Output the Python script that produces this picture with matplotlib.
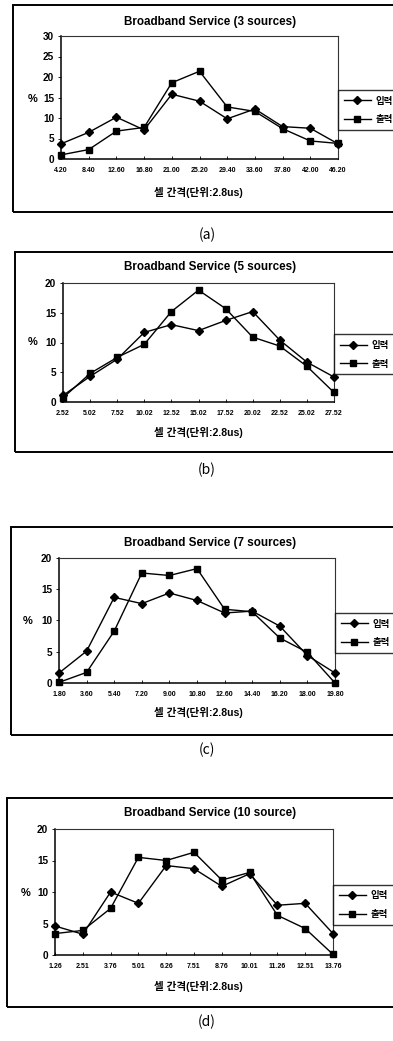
import matplotlib
matplotlib.use("Agg")
import matplotlib.pyplot as plt
from matplotlib.patches import Rectangle
from matplotlib.font_manager import FontProperties

W, H = 393, 1041
plt.rcParams['font.family'] = ['Liberation Sans', 'Noto Sans CJK KR', 'DejaVu Sans']

# ---------------- data ----------------
titles = ["Broadband Service (3 sources)", "Broadband Service (5 sources)",
          "Broadband Service (7 sources)", "Broadband Service (10 source)"]
panel_tags = ["(a)", "(b)", "(c)", "(d)"]
series_names = ["입력", "출력"]
xlabel_text = "셀 간격(단위:2.8us)"

labels_a = ["4.20", "8.40", "12.60", "16.80", "21.00", "25.20", "29.40", "33.60", "37.80", "42.00", "46.20"]
input_a = [3.7, 6.5, 10.2, 7.1, 15.8, 14.1, 9.8, 12.2, 7.9, 7.5, 3.7]
output_a = [1.0, 2.3, 6.8, 7.7, 18.6, 21.4, 12.7, 11.6, 7.4, 4.4, 3.8]

labels_b = ["2.52", "5.02", "7.52", "10.02", "12.52", "15.02", "17.52", "20.02", "22.52", "25.02", "27.52"]
input_b = [1.1, 4.3, 7.2, 11.7, 13.0, 12.0, 13.7, 15.2, 10.4, 6.7, 4.2]
output_b = [0.7, 4.8, 7.5, 9.7, 15.2, 18.8, 15.7, 10.9, 9.4, 6.0, 1.6]

labels_c = ["1.80", "3.60", "5.40", "7.20", "9.00", "10.80", "12.60", "14.40", "16.20", "18.00", "19.80"]
input_c = [1.6, 5.1, 13.7, 12.7, 14.4, 13.2, 11.2, 11.5, 9.1, 4.4, 1.6]
output_c = [0.1, 1.7, 8.3, 17.6, 17.2, 18.3, 11.8, 11.4, 7.2, 4.9, 0.0]

labels_d = ["1.26", "2.51", "3.76", "5.01", "6.26", "7.51", "8.76", "10.01", "11.26", "12.51", "13.76"]
input_d = [4.6, 3.3, 10.0, 8.2, 14.2, 13.7, 10.9, 12.9, 7.9, 8.2, 3.4]
output_d = [3.4, 3.9, 7.4, 15.5, 15.0, 16.3, 11.9, 13.1, 6.3, 4.2, 0.1]

ymax_list = [30, 20, 20, 20]

panels = [(labels_a, input_a, output_a), (labels_b, input_b, output_b),
          (labels_c, input_c, output_c), (labels_d, input_d, output_d)]

# ---------------- layout (pixels) ----------------
axes_px = [(61, 338, 36, 159), (63, 334, 283, 402), (59, 335, 558, 683), (55, 333, 829, 955)]
box_px = [(13, 5, 212), (15, 252, 452), (11, 527, 735), (7, 798, 1007)]
title_y = [22, 267, 543, 813]
xlabel_y = [192, 433, 713, 987]
tag_y = [235, 470, 750, 1022]
pct_pos = [(33, 99), (33, 342), (28, 621), (26, 893)]

fig = plt.figure(figsize=(W / 100, H / 100), dpi=100)

def fx(px):
    return px / W

def fy(py):
    return 1 - py / H

leg_prop = FontProperties(family=['Noto Sans CJK KR'], weight='bold', size=6.8)

for i, (labels, inp, outp) in enumerate(panels):
    l, r, t, b = axes_px[i]
    # outer frame
    bl, bt, bb = box_px[i]
    fig.add_artist(Rectangle((fx(bl), fy(bb)), fx(W + 20) - fx(bl), fy(bt) - fy(bb),
                             transform=fig.transFigure, fill=False, lw=1.4, ec='black'))
    ax = fig.add_axes([fx(l), fy(b), fx(r) - fx(l), fy(t) - fy(b)])
    x = list(range(len(labels)))
    ax.plot(x, inp, color='black', lw=1.0, marker='D', ms=4, mfc='black', mec='black',
            label=series_names[0], clip_on=False, zorder=3)
    ax.plot(x, outp, color='black', lw=1.0, marker='s', ms=4.5, mfc='black', mec='black',
            label=series_names[1], clip_on=False, zorder=3)
    ax.set_xlim(0, len(labels) - 1)
    ax.set_ylim(0, ymax_list[i])
    ax.set_yticks(range(0, ymax_list[i] + 1, 5))
    ax.set_xticks(x)
    ax.set_xticklabels(labels, fontsize=5.0, fontweight='bold')
    ax.tick_params(axis='y', labelsize=7.2, length=2, width=0.6, pad=3, direction='out')
    ax.tick_params(axis='x', length=2, width=0.6, pad=6, direction='in')
    for lab in ax.get_yticklabels():
        lab.set_fontweight('bold')
    for s in ax.spines.values():
        s.set_linewidth(0.8)
        s.set_color('#333333')
    ax.spines['left'].set_color('black')
    ax.spines['bottom'].set_color('black')
    ax.spines['left'].set_linewidth(1.1)
    ax.spines['bottom'].set_linewidth(1.1)

    leg = ax.legend(loc='center left', bbox_to_anchor=(1.0, 0.40), prop=leg_prop,
                    frameon=True, fancybox=False, handlelength=2.9, handletextpad=0.5,
                    borderpad=0.6, labelspacing=0.9, borderaxespad=0.0)
    leg.get_frame().set_edgecolor('black')
    leg.get_frame().set_linewidth(1.0)

    fig.text(fx(210), fy(title_y[i]), titles[i], ha='center', va='center',
             fontsize=8.4, fontweight='bold')
    fig.text(fx(198), fy(xlabel_y[i]), xlabel_text, ha='center', va='center',
             fontsize=7.6, fontweight='bold')
    fig.text(fx(pct_pos[i][0]), fy(pct_pos[i][1]), "%", ha='center', va='center',
             fontsize=8, fontweight='bold')
    fig.text(fx(207), fy(tag_y[i]), panel_tags[i], ha='center', va='center',
             fontsize=10, family=['Noto Sans CJK KR', 'DejaVu Sans'])

fig.savefig("out.png", dpi=100)
